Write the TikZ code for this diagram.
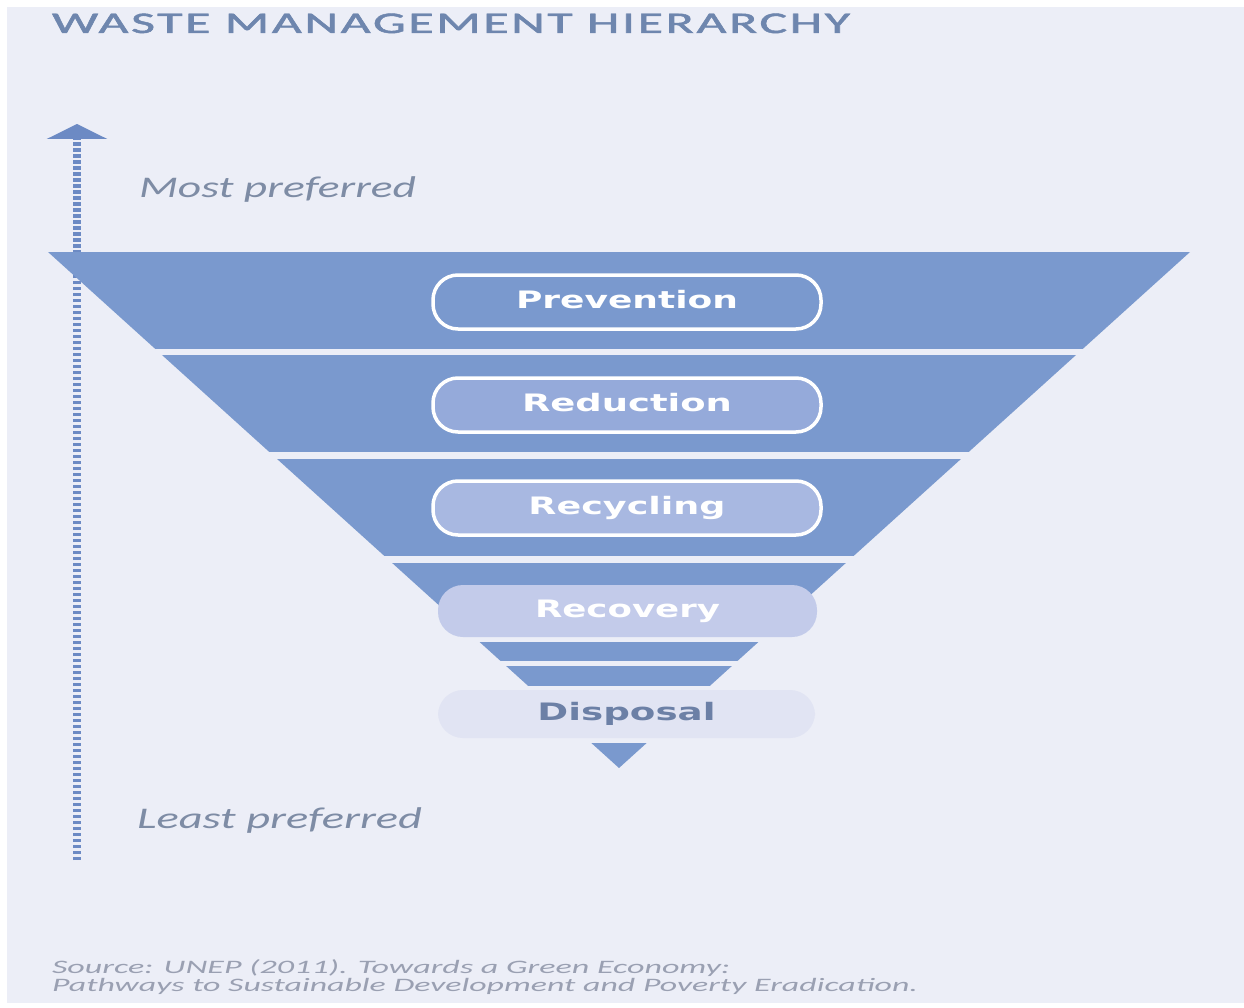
\documentclass[tikz,border=0pt]{standalone}
\usepackage{fontspec}
\usepackage{graphicx}
\setmainfont{Carlito}
\newfontfamily\labelfont{DejaVu Sans}
\newfontfamily\titlefont{Carlito}[FakeBold=1.4, LetterSpace=5]
\usetikzlibrary{arrows.meta}

\definecolor{paper}{HTML}{ECEEF7}
\definecolor{band}{HTML}{7A99CE}
\definecolor{axisblue}{HTML}{6C8AC4}
\definecolor{titleblue}{HTML}{6E86AE}
\definecolor{greytext}{HTML}{7E8CA5}
\definecolor{sourcegrey}{HTML}{9AA0B2}
\definecolor{pillB}{HTML}{95AADA}
\definecolor{pillC}{HTML}{A8B8E1}
\definecolor{pillD}{HTML}{C3CBEA}
\definecolor{pillE}{HTML}{E1E4F3}
\definecolor{disposaltext}{HTML}{6C80A6}

% stretch a piece of text to a given width, keeping its height
\newcommand\fitw[2]{\resizebox{#1}{\height}{#2}}

\tikzset{
  plain/.style={inner sep=0pt, outer sep=0pt},
  pill/.style={plain, rounded corners=25pt, minimum width=388pt,
    minimum height=54pt, text height=17pt, text depth=5pt,
    font=\labelfont\bfseries\fontsize{24}{24}\selectfont},
  outlined/.style={draw=white, line width=3.5pt},
  axisline/.style={draw=axisblue, line width=8pt,
    dash pattern=on 3.5pt off 2.5pt,
    -{Triangle[width=60pt,length=15pt]}},
}

\begin{document}
\begin{tikzpicture}[x=1pt, y=-1pt]
  % page and background panel
  \fill[white] (0,0) rectangle (1244,1008);
  \useasboundingbox (0,0) rectangle (1244,1008);
  \fill[paper] (7,7) rectangle (1244,1003);

  % title
  \node[plain, anchor=base west, text=titleblue] (title) at (52,33)
    {\fitw{798pt}{\titlefont\fontsize{30}{30}\selectfont WASTE MANAGEMENT HIERARCHY}};

  % preference axis
  \coordinate (axisbottom) at (77,860);
  \coordinate (axistop) at (77,124);
  \draw[axisline] (axisbottom) -- (axistop);

  \node[plain, anchor=base west, text=greytext] (most) at (139,198)
    {\fitw{277pt}{\fontsize{30}{30}\selectfont\itshape Most preferred}};
  \node[plain, anchor=base west, text=greytext] (least) at (137,828)
    {\fitw{285pt}{\fontsize{30}{30}\selectfont\itshape Least preferred}};

  % inverted triangle cut into bands
  \begin{scope}
    \clip (48,252) -- (1190,252) -- (619,768) -- cycle;
    \fill[band] (0,252) rectangle (1244,349);
    \fill[band] (0,355) rectangle (1244,452);
    \fill[band] (0,459) rectangle (1244,556);
    \fill[band] (0,563) rectangle (1244,634);
    \fill[band] (0,642) rectangle (1244,661);
    \fill[band] (0,666) rectangle (1244,686);
    \fill[band] (0,743) rectangle (1244,768);
  \end{scope}

  % level labels
  \node[pill, outlined, text=white] (prevention) at (627,302)
    {\fitw{222pt}{Prevention}};
  \node[pill, outlined, fill=pillB, text=white] (reduction) at (627,405)
    {\fitw{210pt}{Reduction}};
  \node[pill, outlined, fill=pillC, text=white] (recycling) at (627,508)
    {\fitw{197pt}{Recycling}};
  \node[pill, fill=pillD, minimum width=379pt, minimum height=52pt, text=white] (recovery) at (627.5,611)
    {\fitw{185pt}{Recovery}};
  \node[pill, fill=pillE, minimum width=377pt, minimum height=48pt, text=disposaltext] (disposal) at (626.5,714)
    {\fitw{178pt}{Disposal}};

  % source note
  \node[plain, anchor=base west, text=sourcegrey] (source1) at (52,973)
    {\fitw{678pt}{\fontsize{19}{19}\selectfont\itshape Source: UNEP (2011). Towards a Green Economy:}};
  \node[plain, anchor=base west, text=sourcegrey] (source2) at (52,991)
    {\fitw{866pt}{\fontsize{19}{19}\selectfont\itshape Pathways to Sustainable Development and Poverty Eradication.}};
\end{tikzpicture}
\end{document}
